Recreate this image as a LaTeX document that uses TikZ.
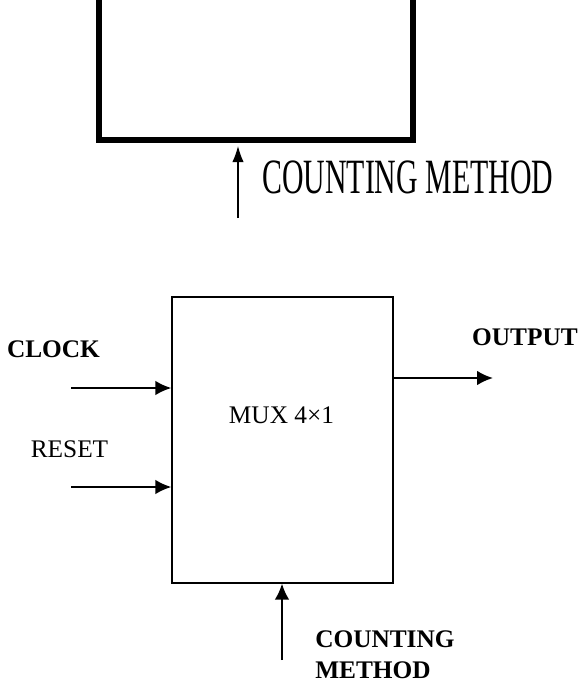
\documentclass[tikz,border=0pt]{standalone}
\usepackage{fontspec}
\setmainfont{Liberation Serif}
\usetikzlibrary{arrows.meta}
\begin{document}
\begin{tikzpicture}[x=0.75pt,y=-0.75pt,font=\fontsize{19}{22}\selectfont,
		sig/.style={line width=1.5pt,-{Latex[length=12pt,width=11pt]}},
		thinsig/.style={line width=0.9pt,-{Latex[length=12pt,width=8.5pt]}}]
	\useasboundingbox (0,0) rectangle (583,686);
	\clip (0,0) rectangle (583,686);
	% old block, cut off at the top
	\node (oldbox) [draw,line width=4.5pt,minimum width=235.5pt,minimum height=150pt,inner sep=0,anchor=south west] at (96,143) {};
	\coordinate (oldcm) at (238,218);
	\draw[thinsig,shorten >=2.25pt] (oldcm) -- (oldcm |- oldbox.south);
	\node (oldlabel) [anchor=west,inner sep=0,font=\fontsize{37}{40}\selectfont] at (262,177) {\scalebox{0.605}[1]{COUNTING METHOD}};
	% multiplexer
	\node (mux) [draw,line width=1pt,minimum width=165.75pt,minimum height=214.5pt,inner sep=0] at (282.5,440) {};
	\node (muxlabel) at (281.5,415) {MUX 4×1};
	\node (clock) at (53.5,349) {\textbf{CLOCK}};
	\node (reset) at (69.5,449) {RESET};
	\node (output) at (525,337) {\textbf{OUTPUT}};
	\node (cmlabel) [anchor=west,align=left,inner sep=0,font=\bfseries\fontsize{19}{23.25}\selectfont] at (315,655) {COUNTING\\METHOD};
	\coordinate (clkin) at (71,388);
	\coordinate (rstin) at (71,487);
	\coordinate (outend) at (493,378);
	\coordinate (cmin) at (282,660);
	\draw[sig] (clkin) -- (clkin -| mux.west);
	\draw[sig] (rstin) -- (rstin -| mux.west);
	\draw[sig] (mux.east |- outend) -- (outend);
	\draw[sig] (cmin) -- (cmin |- mux.south);
\end{tikzpicture}
\end{document}
